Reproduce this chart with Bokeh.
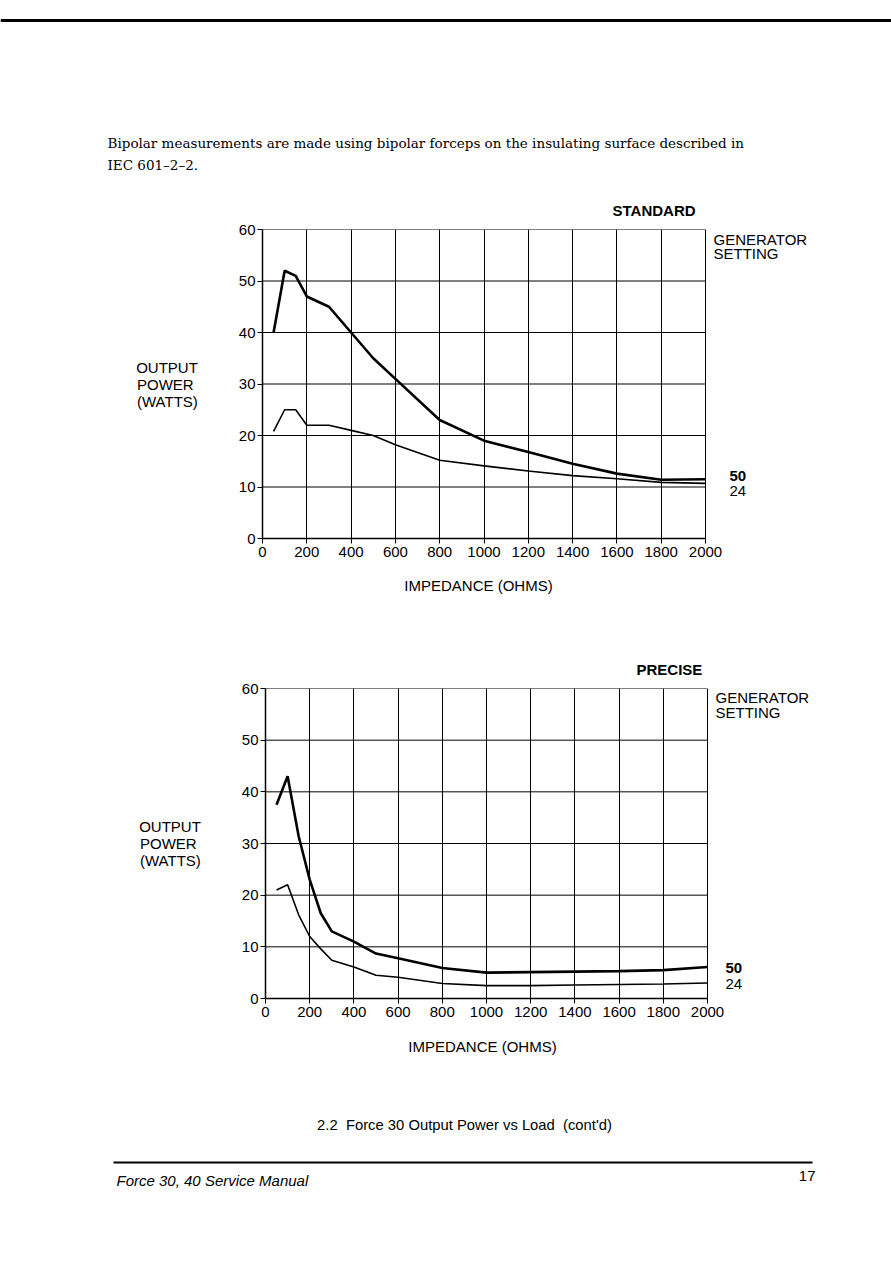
from bokeh.plotting import figure
from bokeh.models import Range1d, Label
from bokeh.layouts import column
from bokeh.core.properties import value
from bokeh.embed import file_html
from bokeh.resources import INLINE

# ---------------- data ----------------
x_ticks = [0, 200, 400, 600, 800, 1000, 1200, 1400, 1600, 1800, 2000]
y_ticks = [0, 10, 20, 30, 40, 50, 60]

std_x = [50, 100, 150, 200, 300, 400, 500, 600, 800, 1000, 1200, 1400, 1600, 1800, 2000]
std_50 = [40, 52, 51, 47, 45, 40, 35, 31, 23, 19, 16.8, 14.5, 12.6, 11.4, 11.5]
std_24 = [20.8, 25, 25, 22, 22, 21, 20, 18.2, 15.2, 14.1, 13.1, 12.2, 11.6, 10.9, 10.7]

pre_x = [50, 100, 150, 200, 250, 300, 400, 500, 600, 800, 1000, 1200, 1400, 1600, 1800, 2000]
pre_50 = [37.5, 43, 31.4, 23, 16.5, 13, 11, 8.7, 7.8, 5.9, 5.0, 5.1, 5.2, 5.3, 5.5, 6.1]
pre_24 = [21, 22, 16.2, 12, 9.6, 7.4, 6.1, 4.5, 4.1, 2.9, 2.5, 2.5, 2.6, 2.7, 2.8, 3.0]

header_lines = ["Bipolar measurements are made using bipolar forceps on the insulating surface described in",
                "IEC 601\u20132\u20132."]
x_title = "IMPEDANCE (OHMS)"
y_title = "OUTPUT\nPOWER\u00a0\n(WATTS)"
gen_lines = ["GENERATOR", "SETTING"]
series_names = ["50", "24"]
caption = "2.2\u00a0 Force 30 Output Power vs Load\u00a0 (cont'd)"
footer_left = "Force 30, 40 Service Manual"
page_no = "17"

SANS = "Liberation Sans"
W = 891


def page_fig(top, bottom):
    p = figure(width=W, height=bottom - top, x_range=Range1d(0, W), y_range=Range1d(bottom, top),
               x_axis_type=None, y_axis_type=None, toolbar_location=None, output_backend="svg",
               min_border=0, outline_line_color=None)
    p.grid.visible = False
    p.background_fill_color = "white"
    p.border_fill_color = "white"
    return p


def ptext(p, x, y, txt, align="left", size="15px", style="normal", font=SANS):
    p.text(x=[x], y=[y], text=[txt], text_font=value(font), text_font_size=size, text_font_style=style,
           text_align=align, text_baseline="middle", text_color="black")


def chart(page_top, page_bottom, left, right, ftop, fbottom, series_x, s50, s24, gen_y, s_x, s_y):
    xmax = x_ticks[-1] * (W - left) / (right - left)
    p = figure(width=W, height=page_bottom - page_top, x_range=Range1d(0, xmax), y_range=Range1d(0, 60),
               toolbar_location=None, output_backend="svg",
               min_border_left=left, min_border_right=0,
               min_border_top=ftop - page_top, min_border_bottom=page_bottom - fbottom)
    p.background_fill_color = "white"
    p.border_fill_color = "white"
    p.outline_line_color = None
    p.xaxis.ticker = x_ticks
    p.yaxis.ticker = y_ticks
    p.xaxis.bounds = (x_ticks[0], x_ticks[-1])
    p.xgrid.ticker = x_ticks
    p.xgrid.grid_line_color = "black"
    p.xgrid.grid_line_width = 1
    p.xgrid.grid_line_alpha = 1
    p.ygrid.visible = False
    # horizontal grid lines limited to the plotted impedance span
    p.segment(x0=[x_ticks[0]] * len(y_ticks), y0=y_ticks, x1=[x_ticks[-1]] * len(y_ticks), y1=y_ticks,
              line_color="black", line_width=1)
    for ax in (p.xaxis, p.yaxis):
        ax.axis_line_color = "black"
        ax.axis_line_width = 1.5
        ax.major_tick_line_color = "black"
        ax.major_tick_in = 0
        ax.major_tick_out = 5
        ax.minor_tick_line_color = None
        ax.major_label_text_font = SANS
        ax.major_label_text_font_size = "15px"
        ax.major_label_text_color = "black"
        ax.axis_label_text_font = SANS
        ax.axis_label_text_font_size = "15px"
        ax.axis_label_text_font_style = "normal"
        ax.axis_label_text_color = "black"
    p.xaxis.major_label_standoff = 3
    p.yaxis.major_label_standoff = 2
    p.yaxis.axis_label = y_title
    p.yaxis.axis_label_orientation = "horizontal"
    p.yaxis.axis_label_text_line_height = 1.0
    p.yaxis.axis_label_standoff = 38

    p.line(series_x, s50, line_color="black", line_width=2.6)
    p.line(series_x, s24, line_color="black", line_width=1.6)

    def dx(px):
        return (px - left) / (right - left) * x_ticks[-1]

    def dy(py):
        return (fbottom - py) / (fbottom - ftop) * 60

    for txt, py in zip(gen_lines, gen_y):
        p.add_layout(Label(x=dx(right + 8), y=dy(py), text=txt, text_baseline="middle", text_font=SANS,
                           text_font_size="15px", text_color="black"))
    for txt, py, st in zip(series_names, s_y, ["bold", "normal"]):
        p.add_layout(Label(x=dx(s_x), y=dy(py), text=txt, text_baseline="middle", text_font=SANS,
                           text_font_size="15px", text_font_style=st, text_color="black"))
    return p


# header (page y 0..219)
hdr = page_fig(0, 219)
hdr.segment(x0=[0], y0=[20], x1=[W], y1=[20], line_color="black", line_width=3)
ptext(hdr, 107, 142, header_lines[0], size="13.5px", font="DejaVu Serif")
ptext(hdr, 107, 164, header_lines[1], size="13.5px", font="DejaVu Serif")
ptext(hdr, 612, 210, "STANDARD", style="bold")

# chart 1 (page y 219..572)
c1 = chart(219, 572, 262, 705, 229, 538, std_x, std_50, std_24, [239, 253], 729, [475, 490])

# strip between the charts (page y 572..680)
mid = page_fig(572, 680)
ptext(mid, 478, 585, x_title, align="center")
ptext(mid, 636, 669, "PRECISE", style="bold")

# chart 2 (page y 680..1032)
c2 = chart(680, 1032, 265, 707, 688, 998, pre_x, pre_50, pre_24, [697, 712], 725, [967, 983])

# footer (page y 1032..1266)
ftr = page_fig(1032, 1266)
ptext(ftr, 482, 1046, x_title, align="center")
ptext(ftr, 464, 1124, caption, align="center", size="14.8px")
ftr.segment(x0=[113], y0=[1162], x1=[812], y1=[1162], line_color="black", line_width=2)
ptext(ftr, 116, 1180, footer_left, style="italic")
ptext(ftr, 815, 1175, page_no, align="right")

layout = column(column(hdr), column(c1), column(mid), column(c2), column(ftr), spacing=0)
open("out.html", "w").write(file_html(layout, INLINE))
